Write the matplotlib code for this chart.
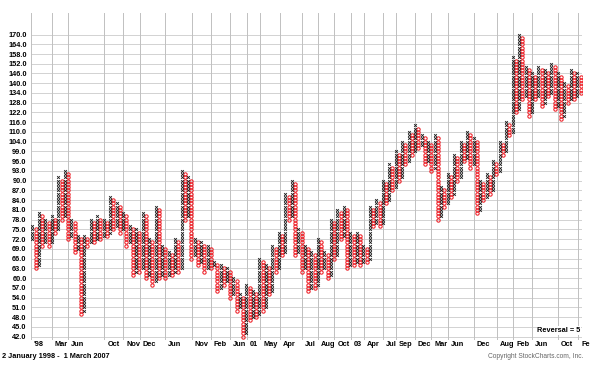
import matplotlib
matplotlib.use("Agg")
import matplotlib.pyplot as plt
from matplotlib.transforms import blended_transform_factory

# ---- data: point & figure columns (alternating X / O), extremes in price ----
first_low = 72            # low of the first X column
col_extremes = [
    76, 63, 80, 70, 78, 70, 79,
    74, 91, 78, 93, 72,
    78, 68, 73, 49, 73,
    70, 78, 71, 79, 72, 78,
    73, 85, 75, 83, 74, 80,
    70, 76, 61, 75, 62, 80,
    60, 72, 58, 82, 60, 70, 60,
    68, 61, 72, 62, 93, 78, 91, 66,
    72, 64, 71, 62, 70, 63, 65,
    56, 64, 58, 63, 54, 60, 50,
    55, 42, 58, 47, 56, 48, 66,
    50, 64, 55, 70, 62, 74, 67,
    86, 78, 90, 67, 75, 62, 70,
    56, 68, 57, 72, 62, 68, 60,
    78, 66, 81, 72, 82, 63, 74,
    64, 74, 64, 70, 65, 82, 76,
    84, 76, 90, 83, 95, 87, 99,
    90, 104, 95, 110, 98, 114,
    100, 108, 95, 104, 93, 108,
    78, 88, 82, 92, 85, 98, 90,
    104, 96, 110, 94, 106, 80, 90,
    84, 92, 86, 96, 92, 104, 98,
    116, 108, 156, 122, 170, 130, 150,
    120, 146, 130, 150, 126, 148, 132,
    152, 124, 146, 118, 140, 128, 148, 130, 146, 134,
]
ytick_prices = list(range(42, 100, 3)) + list(range(104, 171, 6))
month_labels = ["'98", "Mar", "Jun", "Oct", "Nov", "Dec", "Jun", "Nov", "Feb", "Jun",
                "01", "May", "Apr", "Jul", "Aug", "Oct", "03", "Apr", "Jul", "Sep",
                "Dec", "Mar", "Jun", "Dec", "Aug", "Feb", "Jun", "Oct", "Fe"]
month_cols = [0, 6.5, 11.5, 22.7, 28.6, 33.6, 41.5, 49.6, 55.5, 61.5, 66.6, 70.7,
              76.7, 83.5, 88.4, 93.6, 98.6, 102.8, 108.6, 112.6, 118.4, 123.5,
              128.6, 136.6, 143.6, 148.7, 154.6, 162.4, 168.8]


def p2b(p):
    return p - 42 if p <= 100 else 58 + (p - 100) / 2.0


# ---- build boxes ----
xs_x, ys_x, xs_o, ys_o = [], [], [], []
low_b = p2b(first_low)
prev_high = prev_low = None
for i, ext in enumerate(col_extremes):
    e = p2b(ext)
    if i % 2 == 0:  # X column
        lo = low_b if i == 0 else prev_low + 1
        hi = e
        for b in range(int(round(lo)), int(round(hi)) + 1):
            xs_x.append(i + 0.5); ys_x.append(b)
        prev_high = hi
    else:           # O column
        hi = prev_high - 1
        lo = e
        for b in range(int(round(lo)), int(round(hi)) + 1):
            xs_o.append(i + 0.5); ys_o.append(b)
        prev_low = lo
ncols = len(col_extremes)

W, H = 597, 371
fig = plt.figure(figsize=(W / 100, H / 100), dpi=100)
left, right, top, bot = 30.7, 582.3, 13, 340
ax = fig.add_axes([left / W, 1 - bot / H, (right - left) / W, (bot - top) / H])
b0_y = 336.5
bpx = 3.247
ax.set_ylim(-(bot - b0_y) / bpx, (b0_y - top) / bpx)
ax.set_xlim(0, ncols)

for s in ax.spines.values():
    s.set_visible(False)

gc = "#cbcbcb"
for p in ytick_prices:
    ax.axhline(p2b(p), color=gc, lw=0.6, zorder=0)
for c in month_cols + [ncols]:
    ax.axvline(c, color="#c0c0c0", lw=0.7, zorder=0)

ax.plot(xs_o, ys_o, linestyle="none", marker="o", markersize=2.4, mfc="none",
        mec="#ee1c24", mew=0.75, zorder=3)
ax.plot(xs_x, ys_x, linestyle="none", marker="x", markersize=2.0,
        mec="#1a1a1a", mew=0.6, zorder=3)

ax.set_xticks([])
ax.set_yticks([p2b(p) for p in ytick_prices])
ax.set_yticklabels([f"{p:.1f}" for p in ytick_prices], fontsize=5.3,
                   fontweight="bold", family="Liberation Sans")
ax.tick_params(axis="y", length=0, pad=3)

trans = blended_transform_factory(ax.transData, fig.transFigure)
for c, lab in zip(month_cols, month_labels):
    ax.text(c + 0.9, 1 - 345 / H, lab, transform=trans, fontsize=5.3,
            fontweight="bold", family="Liberation Sans", va="center", ha="left")

fig.text(2 / W, 1 - 356 / H, "2 January 1998 -  1 March 2007", fontsize=5.3,
         fontweight="bold", family="Liberation Sans", va="center", ha="left")
fig.text(583 / W, 1 - 356 / H, "Copyright StockCharts.com, Inc.", fontsize=4.8,
         color="#666666", family="Liberation Sans", va="center", ha="right")
ax.text(ncols - 0.5, p2b(43.8), "Reversal = 5", fontsize=5.3, fontweight="bold",
        family="Liberation Sans", ha="right", va="center",
        bbox=dict(facecolor="white", edgecolor="none", pad=0.5), zorder=5)

fig.savefig("out.png", dpi=100)
